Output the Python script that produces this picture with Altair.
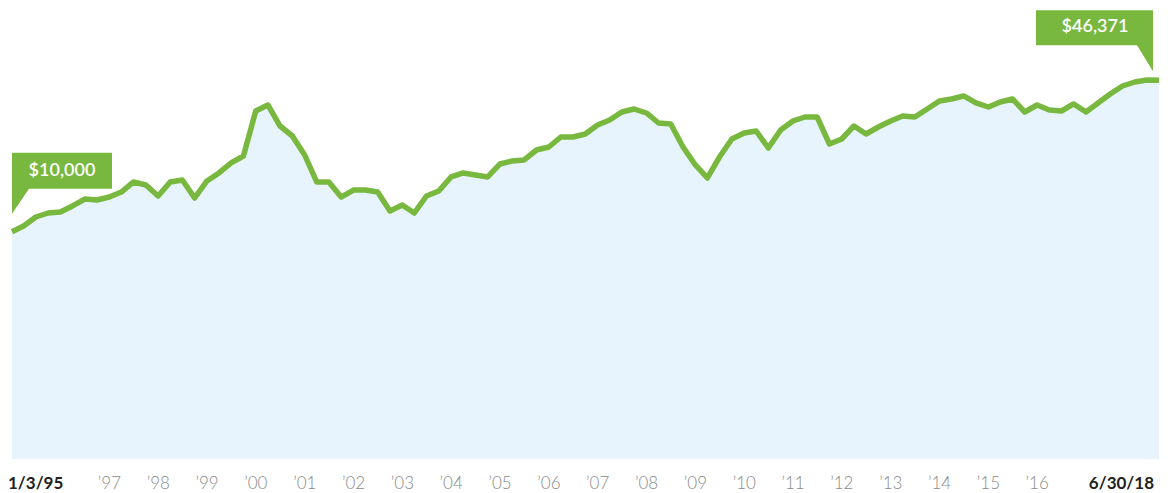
import altair as alt
import pandas as pd

# Quarterly growth of a hypothetical $10,000 investment
start_date = "1995-01-03"
quarter_ends = [d.strftime("%Y-%m-%d") for d in pd.date_range("1995-03-31", "2018-06-30", freq="QE")]
dates = [start_date] + quarter_ends

values = [
    10000, 10594, 11606, 12086, 12209, 12976, 13925, 13785, 14210, 14948,
    16547, 16051, 14355, 16547, 16886, 14067, 16716, 18128, 20061, 21530,
    33965, 36095, 29175, 26365, 21750, 16547, 16547, 14210, 15254, 15254,
    14948, 12333, 13108, 12086, 14355, 15100, 17408, 18128, 17764, 17408,
    19859, 20472, 20680, 22881, 23587, 26099, 26099, 26903, 29473, 31004,
    33623, 34661, 33285, 30076, 29773, 23587, 19659, 17232, 21313, 25576,
    27177, 27733, 23350, 28015, 30692, 31961, 31961, 24316, 25576, 29175,
    26903, 28881, 30692, 32286, 31961, 34661, 37592, 38362, 39546, 36837,
    35370, 37213, 38362, 33623, 36095, 34312, 33965, 36466, 33623, 36837,
    40355, 43752, 45560, 46493, 46371,
]

callout_labels = ["$10,000", "$46,371"]

year_label_dates = [f"{y}-01-01" for y in range(1997, 2017)]
year_labels = ["\u2019" + str(y)[2:] for y in range(1997, 2017)]
edge_label_dates = ["1995-01-03", "2018-06-30"]
edge_labels = ["1/3/95", "6/30/18"]

GREEN = "#78b83e"
FILL = "#e8f4fd"
FONT = "Lato"

df = pd.DataFrame({"date": dates, "value": values})
first = df.iloc[[0]].assign(label=callout_labels[0])
last = df.iloc[[-1]].assign(label=callout_labels[1])

xs = alt.Scale(nice=False, domain=[dates[0], dates[-1]])
ys = alt.Scale(type="log", domain=[1000, 96420], nice=False)
X = alt.X("date:T", scale=xs, axis=None)
Y = alt.Y("value:Q", scale=ys, axis=None)

area = alt.Chart(df).mark_area(color=FILL, opacity=1).encode(x=X, y=Y, y2=alt.datum(1000))
line = alt.Chart(df).mark_line(color=GREEN, strokeWidth=5.5, strokeJoin="round").encode(x=X, y=Y)

start_shape = alt.Chart(first).mark_point(
    shape="M0,-18 L0,-79 L100,-79 L100,-43 L17,-43 Z",
    size=4, filled=True, color=GREEN, opacity=1, strokeWidth=0,
).encode(x=X, y=Y)
end_shape = alt.Chart(last).mark_point(
    shape="M-6,-9 L-6,-70 L-123,-70 L-123,-35 L-22,-35 Z",
    size=4, filled=True, color=GREEN, opacity=1, strokeWidth=0,
).encode(x=X, y=Y)

start_text = alt.Chart(first).mark_text(
    dx=50, dy=-61, color="white", font=FONT, fontSize=18, fontWeight=600,
    align="center", baseline="middle",
).encode(x=X, y=Y, text="label:N")
end_text = alt.Chart(last).mark_text(
    dx=-64, dy=-53, color="white", font=FONT, fontSize=18, fontWeight=600,
    align="center", baseline="middle",
).encode(x=X, y=Y, text="label:N")

years_df = pd.DataFrame({"date": year_label_dates, "label": year_labels})
edge_df = pd.DataFrame({"date": edge_label_dates, "label": edge_labels})

year_text = alt.Chart(years_df).mark_text(
    font=FONT, fontSize=17, fontWeight=300, color="#8a8a8a", align="center", baseline="middle",
).encode(x=X, y=alt.value(476), text="label:N")
start_lab = alt.Chart(edge_df.iloc[[0]]).mark_text(
    font=FONT, fontSize=17, fontWeight="bold", color="#222222", align="left", baseline="middle", dx=-4,
).encode(x=X, y=alt.value(476), text="label:N")
end_lab = alt.Chart(edge_df.iloc[[1]]).mark_text(
    font=FONT, fontSize=17, fontWeight="bold", color="#222222", align="right", baseline="middle", dx=-5,
).encode(x=X, y=alt.value(476), text="label:N")

chart = alt.layer(
    area, line, start_shape, end_shape, start_text, end_text, year_text, start_lab, end_lab
).properties(
    width=1147, height=451,
    autosize=alt.AutoSizeParams(type="none"),
    padding={"left": 4, "right": 1, "top": 0, "bottom": 34},
).configure_view(stroke=None)

chart.save("out.html", embed_options={"renderer": "svg", "actions": False})
